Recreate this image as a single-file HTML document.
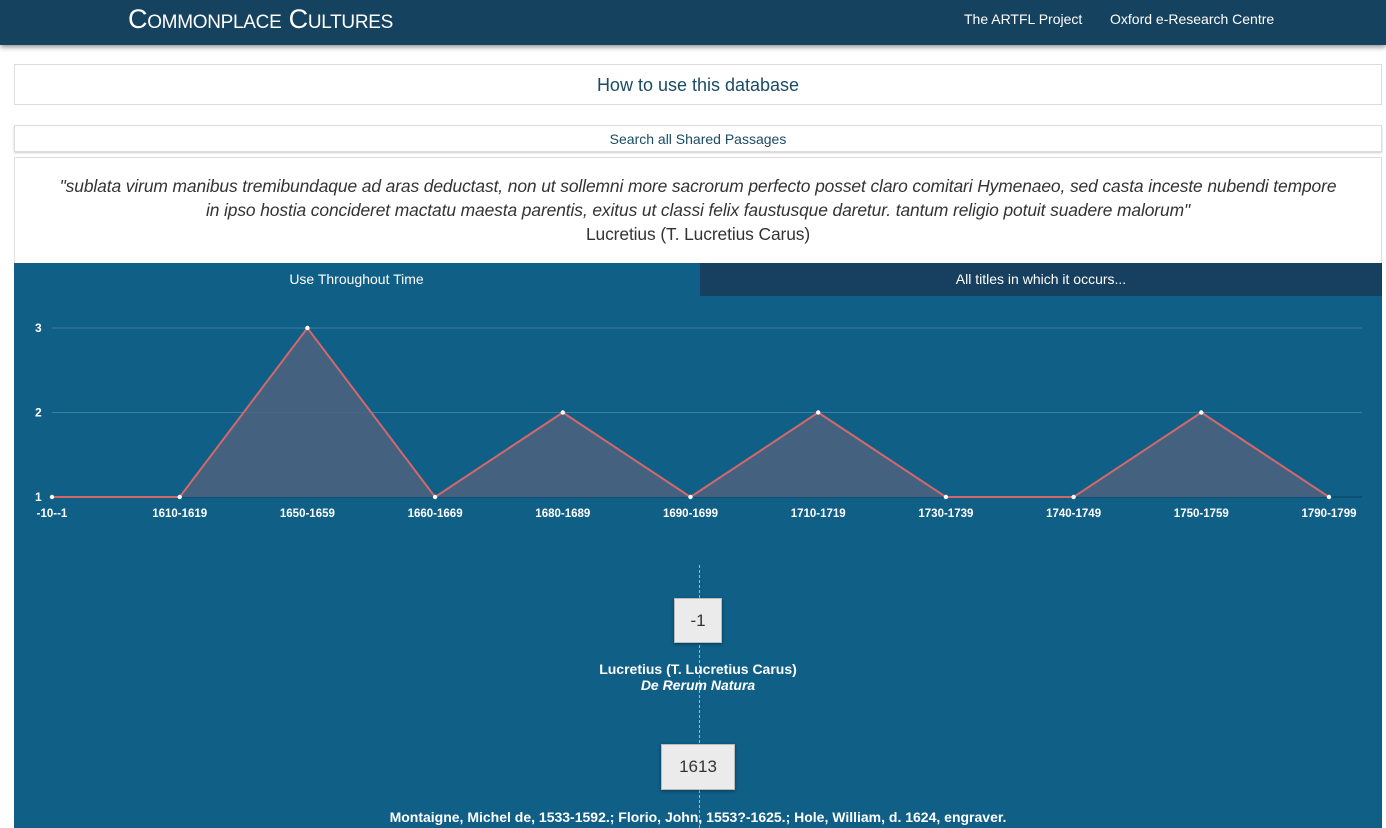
<!DOCTYPE html>
<html><head><meta charset="utf-8"><style>
body{margin:0;width:1386px;height:828px;overflow:hidden;background:#fff;font-family:"Liberation Sans",sans-serif;position:relative}
.hdr{position:absolute;left:0;top:0;width:1386px;height:45px;background:#15425f;box-shadow:0 2px 5px rgba(0,0,0,.45)}
.brand{position:absolute;left:128px;top:4px;color:#fff;font-size:27px;font-variant:small-caps;letter-spacing:-0.3px}
.nav{position:absolute;top:11px;color:#fff;font-size:14px}
.box{position:absolute;left:14px;width:1368px;border:1px solid #ddd;box-sizing:border-box;text-align:center;color:#1a4a66;background:#fff}
.panel{position:absolute;left:14px;top:263px;width:1368px;height:565px;background:#0f5f87}
.tab{position:absolute;top:0;height:33px;line-height:33px;text-align:center;color:#fff;font-size:14px}
.yr{position:absolute;background:#ebebeb;border:1px solid #bbb;color:#333;font-size:17px;text-align:center;box-shadow:0 1px 3px rgba(0,0,0,.4)}
.t{position:absolute;color:#fff;font-size:14px;text-align:center;width:1368px;left:0;font-weight:bold}
</style></head><body>
<div class="hdr">
<div class="brand">Commonplace Cultures</div>
<div class="nav" style="left:964px">The ARTFL Project</div>
<div class="nav" style="left:1110px">Oxford e-Research Centre</div>
</div>
<div class="box" style="top:64px;height:41px;line-height:40px;font-size:18px">How to use this database</div>
<div class="box" style="top:125px;height:27px;line-height:26px;font-size:14px;box-shadow:0 1px 2px rgba(0,0,0,.2)">Search all Shared Passages</div>
<div class="box" style="top:157px;height:107px;color:#333;font-size:17.4px;line-height:24px;padding-top:16px;letter-spacing:-0.1px">
<i>"sublata virum manibus tremibundaque ad aras deductast, non ut sollemni more sacrorum perfecto posset claro comitari Hymenaeo, sed casta inceste nubendi tempore<br>in ipso hostia concideret mactatu maesta parentis, exitus ut classi felix faustusque daretur. tantum religio potuit suadere malorum"</i><br><span>Lucretius (T. Lucretius Carus)</span></div>
<div class="panel">
<div class="tab" style="left:0;width:685px;background:#0f5f87">Use Throughout Time</div>
<div class="tab" style="left:686px;width:682px;background:#173f5f">All titles in which it occurs...</div>
<div style="position:absolute;left:685px;top:302px;height:263px;border-left:1px dashed #9cbccc"></div>
<div class="yr" style="left:660px;top:335px;width:46px;height:43px;line-height:43px">-1</div>
<div class="t" style="top:398px">Lucretius (T. Lucretius Carus)<br><i>De Rerum Natura</i></div>
<div class="yr" style="left:647px;top:481px;width:72px;height:44px;line-height:44px">1613</div>
<div class="t" style="top:546px">Montaigne, Michel de, 1533-1592.; Florio, John, 1553?-1625.; Hole, William, d. 1624, engraver.</div>
</div>
<svg id="chart" width="1386" height="828" style="position:absolute;left:0;top:0"></svg>
<script>
const categories=["-10--1","1610-1619","1650-1659","1660-1669","1680-1689","1690-1699","1710-1719","1730-1739","1740-1749","1750-1759","1790-1799"];
const values=[1,1,3,1,2,1,2,1,1,2,1];
const yTicks=[1,2,3];
const svg=document.getElementById('chart');const NS='http://www.w3.org/2000/svg';
const x0=52,x1=1329,yBase=497,yTop=328;
const xs=i=>x0+(x1-x0)*i/(categories.length-1);
const ys=v=>yBase-(v-1)*(yBase-yTop)/2;
function mk(t,a){const e=document.createElementNS(NS,t);for(const k in a)e.setAttribute(k,a[k]);svg.appendChild(e);return e;}
yTicks.forEach(v=>{
const g=mk('line',{x1:52,x2:1362,y1:ys(v),y2:ys(v),stroke:v===1?'#0b3f5e':'#3b7fa2','stroke-width':1});


const t=mk('text',{x:35,y:ys(v)+4,fill:'#fff','font-size':12,'font-weight':'bold','font-family':'Liberation Sans'});t.textContent=v;


});
let d='M'+xs(0)+','+yBase;values.forEach((v,i)=>d+=' L'+xs(i)+','+ys(v));d+=' L'+xs(values.length-1)+','+yBase+' Z';
const area=mk('path',{d:d,fill:'#4a6380','fill-opacity':0.9});


const line=mk('polyline',{points:values.map((v,i)=>xs(i)+','+ys(v)).join(' '),fill:'none',stroke:'#d2686a','stroke-width':2});


values.forEach((v,i)=>{
const c=mk('circle',{cx:xs(i),cy:ys(v),r:2.2,fill:'#fff'});


const t=mk('text',{x:xs(i),y:517,fill:'#fff','font-size':11.5,'font-weight':'bold','text-anchor':'middle','font-family':'Liberation Sans'});t.textContent=categories[i];


});
</script>
</body></html>
